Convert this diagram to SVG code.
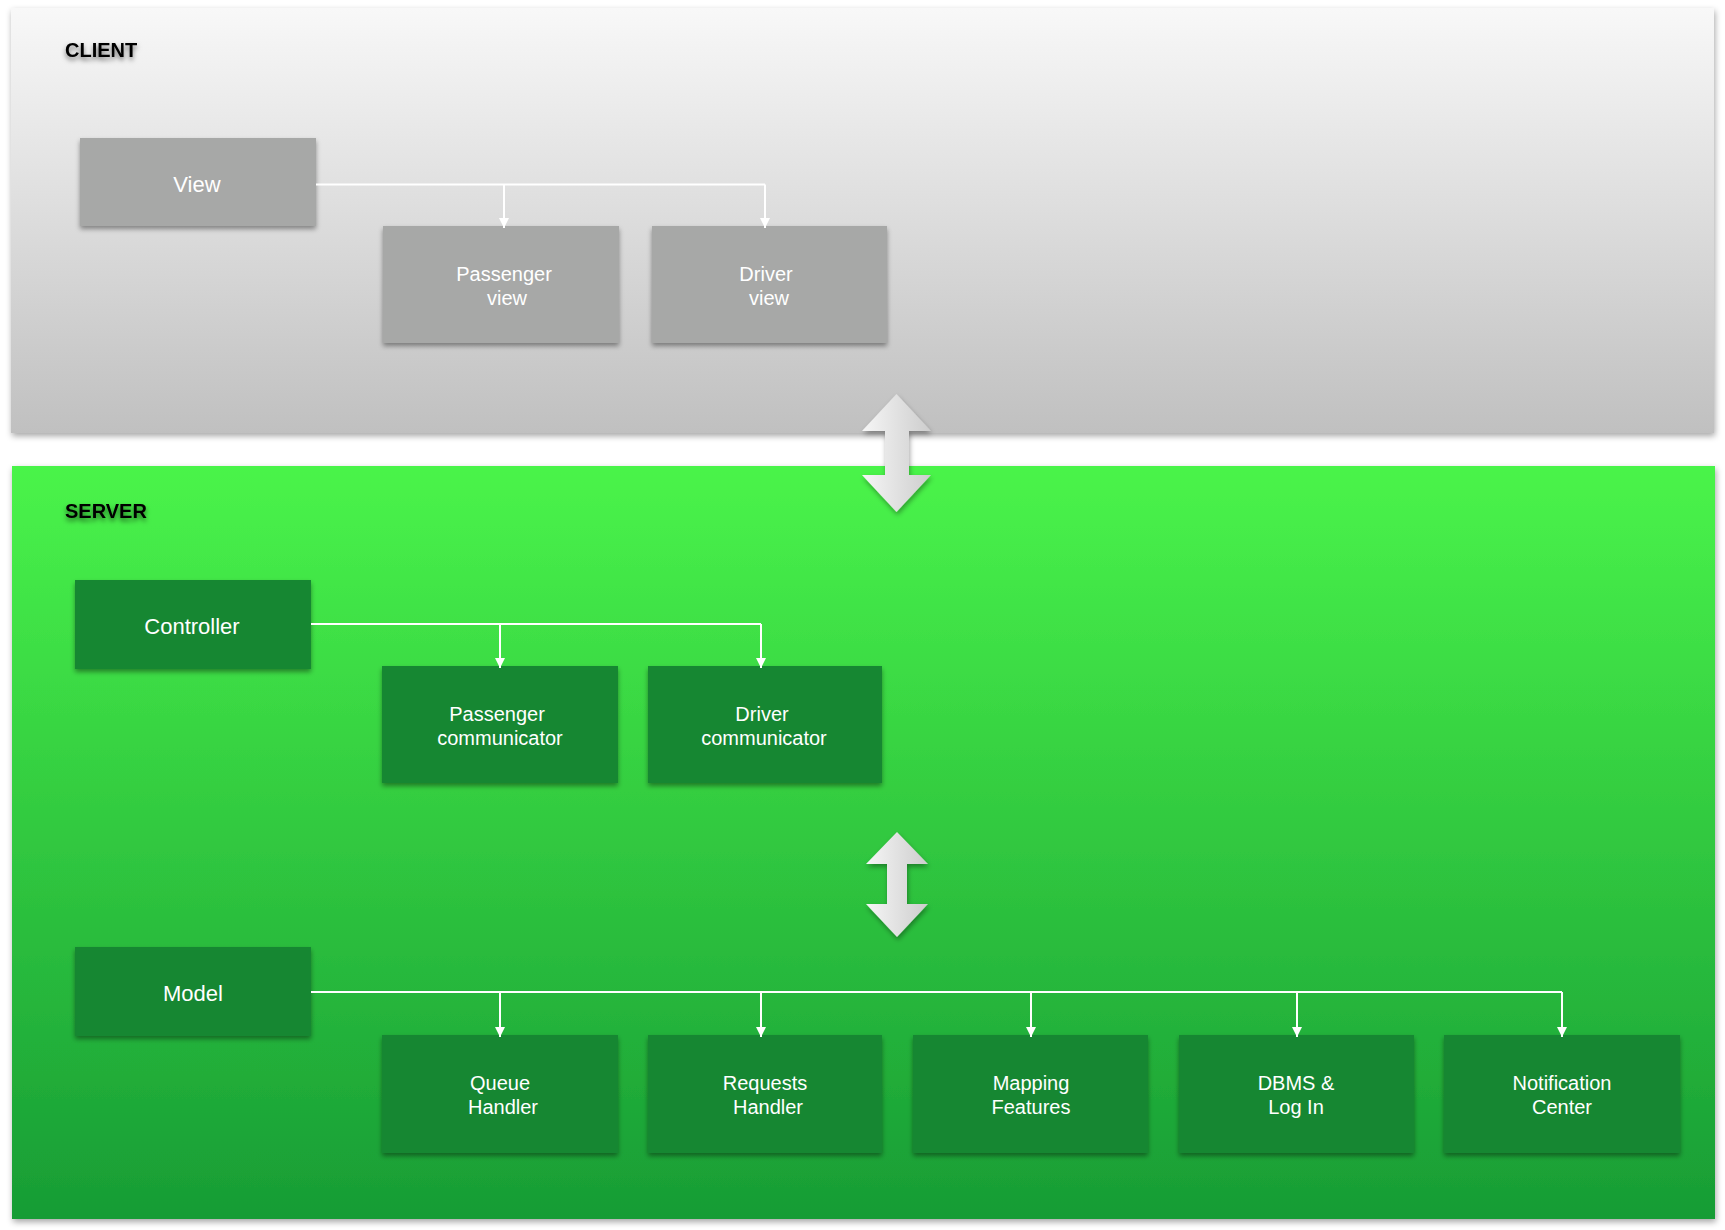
<svg xmlns="http://www.w3.org/2000/svg" width="1725" height="1230" viewBox="0 0 1725 1230">
<defs>
<linearGradient id="gClient" x1="0" y1="0" x2="0" y2="1">
<stop offset="0" stop-color="#f8f8f8"/>
<stop offset="1" stop-color="#c0c0c0"/>
</linearGradient>
<linearGradient id="gServer" x1="0" y1="0" x2="0" y2="1">
<stop offset="0" stop-color="#4af44a"/>
<stop offset="1" stop-color="#179c35"/>
</linearGradient>
<linearGradient id="gArrow" x1="0" y1="0" x2="1" y2="0">
<stop offset="0" stop-color="#f6f6f6"/>
<stop offset="1" stop-color="#cdcdcd"/>
</linearGradient>
<filter id="panelShadow" x="-5%" y="-5%" width="110%" height="110%">
<feDropShadow dx="1" dy="3" stdDeviation="3" flood-color="#000" flood-opacity="0.35"/>
</filter>
<filter id="nodeShadow" x="-10%" y="-10%" width="120%" height="125%">
<feDropShadow dx="0" dy="3" stdDeviation="2.5" flood-color="#000" flood-opacity="0.4"/>
</filter>
<filter id="titleShadow" x="-20%" y="-50%" width="140%" height="220%">
<feDropShadow dx="0" dy="3" stdDeviation="2.5" flood-color="#000" flood-opacity="0.55"/>
</filter>
<filter id="arrowShadow" x="-30%" y="-20%" width="160%" height="140%">
<feDropShadow dx="1" dy="3" stdDeviation="2.5" flood-color="#000" flood-opacity="0.35"/>
</filter>
<marker id="ah" viewBox="0 0 10 10" refX="10" refY="5" markerWidth="10" markerHeight="10" markerUnits="userSpaceOnUse" orient="auto">
<path d="M0,0 L10,5 L0,10 Z" fill="#ffffff"/>
</marker>
</defs>
<style>
.title{font-family:"Liberation Sans",Arial,sans-serif;font-weight:bold;font-size:20px;fill:#000}
.lbl{font-family:"Liberation Sans",Arial,sans-serif;font-size:20px;fill:#ffffff;text-anchor:middle}
.big{font-size:22px}
.gray{fill:#a7a8a7}
.green{fill:#128731}
.conn{fill:none;stroke:#ffffff;stroke-width:2}
</style>

<g id="client-panel">
<rect x="11" y="8" width="1703" height="425" fill="url(#gClient)" filter="url(#panelShadow)"/>
<text class="title" x="65" y="57" filter="url(#titleShadow)">CLIENT</text>
</g>
<g id="server-panel">
<rect x="12" y="466" width="1703" height="753" fill="url(#gServer)" filter="url(#panelShadow)"/>
<text class="title" x="65" y="518" filter="url(#titleShadow)">SERVER</text>
</g>

<g id="view">
<rect class="gray" x="80" y="138" width="236" height="88" filter="url(#nodeShadow)"/>
<text class="lbl big" x="197" y="192">View</text>
</g>
<g id="passenger-view">
<rect class="gray" x="383" y="226" width="236" height="117" filter="url(#nodeShadow)"/>
<text class="lbl" x="504" y="281">Passenger</text>
<text class="lbl" x="507" y="305">view</text>
</g>
<g id="driver-view">
<rect class="gray" x="652" y="226" width="235" height="117" filter="url(#nodeShadow)"/>
<text class="lbl" x="766" y="281">Driver</text>
<text class="lbl" x="769" y="305">view</text>
</g>

<g id="arrow-client-server" filter="url(#arrowShadow)">
<path d="M896.5,394 L931,431 L909,431 L909,475 L931,475 L896.5,512 L862,475 L885,475 L885,431 L862,431 Z" fill="url(#gArrow)"/>
</g>

<g id="controller">
<rect class="green" x="75" y="580" width="236" height="89" filter="url(#nodeShadow)"/>
<text class="lbl big" x="192" y="634">Controller</text>
</g>
<g id="passenger-communicator">
<rect class="green" x="382" y="666" width="236" height="117" filter="url(#nodeShadow)"/>
<text class="lbl" x="497" y="721">Passenger</text>
<text class="lbl" x="500" y="745">communicator</text>
</g>
<g id="driver-communicator">
<rect class="green" x="648" y="666" width="234" height="117" filter="url(#nodeShadow)"/>
<text class="lbl" x="762" y="721">Driver</text>
<text class="lbl" x="764" y="745">communicator</text>
</g>

<g id="arrow-controller-model" filter="url(#arrowShadow)">
<path d="M897,832 L928,864 L907,864 L907,904 L928,904 L897,937 L866,904 L887,904 L887,864 L866,864 Z" fill="url(#gArrow)"/>
</g>

<g id="model">
<rect class="green" x="75" y="947" width="236" height="89" filter="url(#nodeShadow)"/>
<text class="lbl big" x="193" y="1001">Model</text>
</g>
<g id="queue-handler">
<rect class="green" x="382" y="1035" width="236" height="118" filter="url(#nodeShadow)"/>
<text class="lbl" x="500" y="1090">Queue</text>
<text class="lbl" x="503" y="1114">Handler</text>
</g>
<g id="requests-handler">
<rect class="green" x="648" y="1035" width="234" height="118" filter="url(#nodeShadow)"/>
<text class="lbl" x="765" y="1090">Requests</text>
<text class="lbl" x="768" y="1114">Handler</text>
</g>
<g id="mapping-features">
<rect class="green" x="913" y="1035" width="235" height="118" filter="url(#nodeShadow)"/>
<text class="lbl" x="1031" y="1090">Mapping</text>
<text class="lbl" x="1031" y="1114">Features</text>
</g>
<g id="dbms-login">
<rect class="green" x="1179" y="1035" width="235" height="118" filter="url(#nodeShadow)"/>
<text class="lbl" x="1296" y="1090">DBMS &amp;</text>
<text class="lbl" x="1296" y="1114">Log In</text>
</g>
<g id="notification-center">
<rect class="green" x="1444" y="1035" width="236" height="118" filter="url(#nodeShadow)"/>
<text class="lbl" x="1562" y="1090">Notification</text>
<text class="lbl" x="1562" y="1114">Center</text>
</g>

<g id="connectors">
<path class="conn" d="M316,184.5 H765"/>
<path class="conn" d="M504,184.5 V228" marker-end="url(#ah)"/>
<path class="conn" d="M765,184.5 V228" marker-end="url(#ah)"/>
<path class="conn" d="M311,624 H761"/>
<path class="conn" d="M500,624 V668" marker-end="url(#ah)"/>
<path class="conn" d="M761,624 V668" marker-end="url(#ah)"/>
<path class="conn" d="M311,992 H1562"/>
<path class="conn" d="M500,992 V1037" marker-end="url(#ah)"/>
<path class="conn" d="M761,992 V1037" marker-end="url(#ah)"/>
<path class="conn" d="M1031,992 V1037" marker-end="url(#ah)"/>
<path class="conn" d="M1297,992 V1037" marker-end="url(#ah)"/>
<path class="conn" d="M1562,992 V1037" marker-end="url(#ah)"/>
</g>
</svg>
